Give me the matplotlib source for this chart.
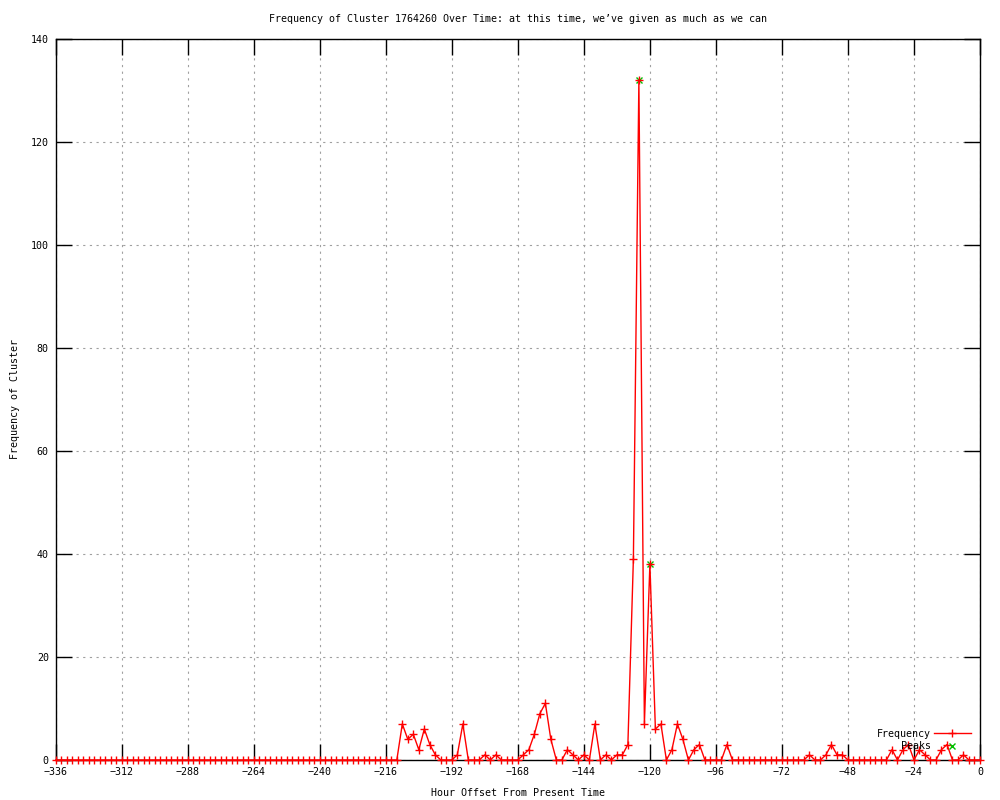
import matplotlib
matplotlib.use("Agg")
import matplotlib.pyplot as plt
import numpy as np

# cluster counts, one every 2 hours from -336 to 0
hours = np.arange(-336, 1, 2)
counts = [0] * 63 + [
    7, 4, 5, 2, 6, 3, 1, 0,      # -210 .. -196
    0, 0, 1, 7, 0, 0, 0, 1,      # -194 .. -180
    0, 1, 0, 0, 0, 0, 1, 2,      # -178 .. -164
    5, 9, 11, 4, 0, 0, 2, 1,     # -162 .. -148
    0, 1, 0, 7, 0, 1, 0, 1,      # -146 .. -132
    1, 3, 39, 132, 7, 38, 6, 7,  # -130 .. -116
    0, 2, 7, 4, 0, 2, 3, 0,      # -114 .. -100
    0, 0, 0, 3, 0, 0, 0, 0,      # -98 .. -84
    0, 0, 0, 0, 0, 0, 0, 0,      # -82 .. -68
    0, 0, 1, 0, 0, 1, 3, 1,      # -66 .. -52
    1, 0, 0, 0, 0, 0, 0, 0,      # -50 .. -36
    0, 2, 0, 2, 3, 0, 2, 1,      # -34 .. -20
    0, 0, 2, 3, 0, 0, 1, 0,      # -18 .. -4
    0, 0,                        # -2 .. 0
]

peak_hours = [-124, -120]
peak_counts = [132, 38]

xticks = list(range(-336, 1, 24))
yticks = list(range(0, 141, 20))

fs = 7.2
plt.rcParams['font.family'] = ['DejaVu Sans Mono']
plt.rcParams['font.size'] = fs

fig = plt.figure(figsize=(10, 8), dpi=100)
ax = fig.add_axes([0.0557, 0.05, 0.9243, 0.9013])

ax.plot(hours, counts, color='red', lw=1, marker='+', ms=5.5, mew=1,
        clip_on=False, zorder=3, label='Frequency')
ax.plot(peak_hours, peak_counts, ls='none', color='#00c000', marker='x',
        ms=5, mew=1, clip_on=False, zorder=2, label='    Peaks')

ax.set_xlim(-336, 0)
ax.set_ylim(0, 140)
ax.set_xticks(xticks)
ax.set_yticks(yticks)
ax.tick_params(direction='in', length=11.5, width=1, top=True, right=True,
               labelsize=fs, pad=5, color='black')
ax.grid(True, color='#a0a0a0', ls=(0, (2, 4)), lw=0.8)
for s in ax.spines.values():
    s.set_linewidth(1)
    s.set_color('black')

ax.set_title("Frequency of Cluster 1764260 Over Time: at this time, we\u2019ve given as much as we can",
             fontsize=fs, pad=12)
ax.set_xlabel('Hour Offset From Present Time', fontsize=fs, labelpad=8)
ax.set_ylabel('Frequency of Cluster', fontsize=fs, labelpad=8)

ax.legend(loc='lower right', bbox_to_anchor=(0.99, 0.012), frameon=False,
          markerfirst=False, handlelength=3.7, handletextpad=0.3,
          labelspacing=0.25, borderpad=0, borderaxespad=0, fontsize=fs)

fig.savefig('out.png', dpi=100)
